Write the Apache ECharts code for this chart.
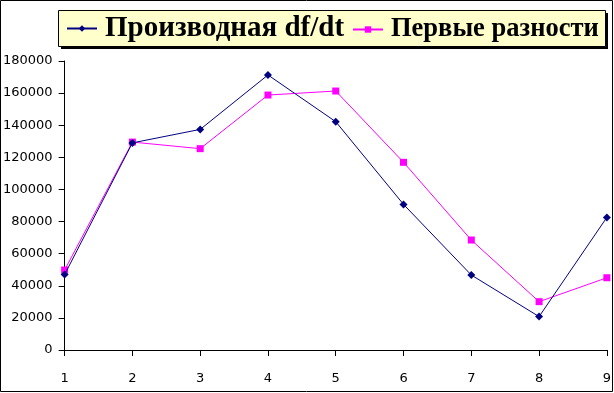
<!DOCTYPE html>
<html><head><meta charset="utf-8">
<script src="https://cdn.jsdelivr.net/npm/echarts@6/dist/echarts.min.js"></script>
<style>html,body{margin:0;padding:0;background:#fff}#c{width:614px;height:393px}</style>
</head><body><div id="c"></div>
<script>
const xValues = [1, 2, 3, 4, 5, 6, 7, 8, 9];
const derivative = [47000, 129000, 137400, 171300, 142200, 90700, 46700, 20800, 82600];
const firstDiffs = [49800, 129500, 125400, 158800, 161300, 116900, 68500, 30100, 45000];
const seriesNames = ['Производная df/dt', 'Первые разности'];

const legendText = (size) => ({fontFamily: 'Liberation Serif', fontWeight: 'bold', fontSize: size, color: '#000', padding: [0, 0, 0, 3]});
const chart = echarts.init(document.getElementById('c'), null, {renderer: 'canvas'});
chart.setOption({
  animation: false,
  backgroundColor: '#fff',
  graphic: [
    {type: 'rect', shape: {x: 0.5, y: 0.5, width: 612, height: 391}, style: {fill: 'none', stroke: '#000', lineWidth: 1}, z: 100},
    {type: 'rect', shape: {x: 61, y: 13, width: 547, height: 36}, style: {fill: '#000'}, z: 0},
    {type: 'rect', shape: {x: 58.5, y: 10.5, width: 547, height: 36}, style: {fill: '#FFFFCC', stroke: '#000', lineWidth: 1}, z: 1}
  ],
  legend: [
    {left: 66, top: 14, padding: 0, z: 5, itemWidth: 30, itemHeight: 8, textStyle: legendText(29), data: [seriesNames[0]]},
    {left: 352, top: 16, padding: 0, z: 5, itemWidth: 30, itemHeight: 8, textStyle: legendText(26.5), data: [seriesNames[1]]}
  ],
  grid: {left: 63, right: 2, top: 61, bottom: 43},
  xAxis: {
    type: 'value', min: 1, max: 9, interval: 1,
    axisLine: {lineStyle: {color: '#000', width: 1}},
    axisTick: {show: true, length: 6, lineStyle: {color: '#000'}},
    axisLabel: {color: '#000', fontFamily: 'DejaVu Sans', fontSize: 13, margin: 22, showMaxLabel: true},
    splitLine: {show: false}
  },
  yAxis: {
    type: 'value', min: 0, max: 180000, interval: 20000,
    axisLine: {show: true, lineStyle: {color: '#000', width: 1}},
    axisTick: {show: true, length: 6, lineStyle: {color: '#000'}},
    axisLabel: {color: '#000', fontFamily: 'DejaVu Sans', fontSize: 13, margin: 12, formatter: v => String(v)},
    splitLine: {show: false}
  },
  series: [
    {
      name: seriesNames[0], type: 'line',
      data: xValues.map((x, i) => [x, derivative[i]]),
      symbol: 'diamond', symbolSize: 8,
      itemStyle: {color: '#000080'},
      lineStyle: {color: '#000080', width: 1},
      z: 3
    },
    {
      name: seriesNames[1], type: 'line',
      data: xValues.map((x, i) => [x, firstDiffs[i]]),
      symbol: 'rect', symbolSize: 7,
      itemStyle: {color: '#FF00FF'},
      lineStyle: {color: '#FF00FF', width: 1},
      z: 2
    }
  ]
});
</script></body></html>
